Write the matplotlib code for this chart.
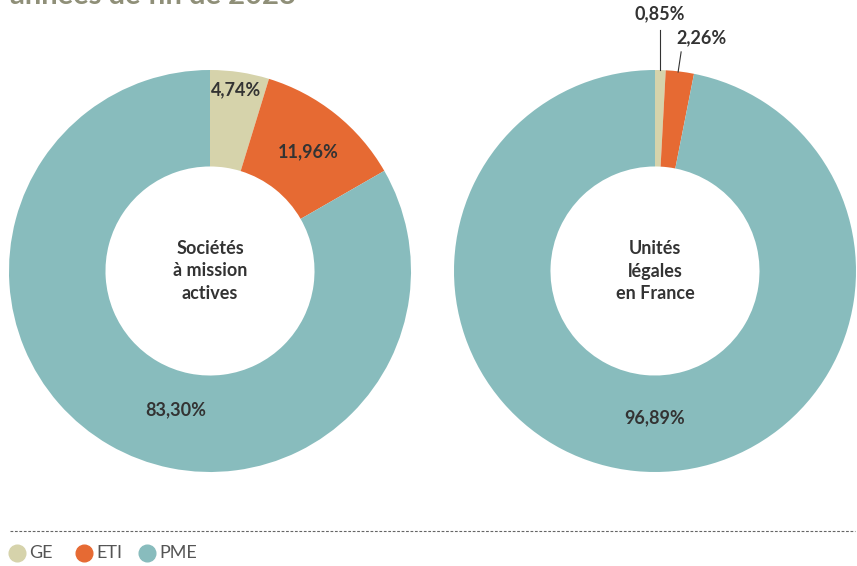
import matplotlib.pyplot as plt
from matplotlib.lines import Line2D

plt.rcParams['font.family'] = ['Lato', 'DejaVu Sans']

categories = ["GE", "ETI", "PME"]
colors = ["#d6d3ab", "#e66a33", "#88bcbd"]

left_values = [4.74, 11.96, 83.30]
right_values = [0.85, 2.26, 96.89]
left_labels = ["4,74%", "11,96%", "83,30%"]
right_labels = ["0,85%", "2,26%", "96,89%"]
left_title = "Sociétés\nà mission\nactives"
right_title = "Unités\nlégales\nen France"

W, H = 857, 566
fig = plt.figure(figsize=(W / 100, H / 100), dpi=100)
DARK = "#333333"
FS = 13


def donut(cx, cy, r, values, center_text):
    ax = fig.add_axes([(cx - r) / W, (H - cy - r) / H, 2 * r / W, 2 * r / H])
    ax.pie(values, colors=colors, startangle=90, counterclock=False,
           radius=1, wedgeprops=dict(width=0.48, linewidth=0))
    ax.set_xlim(-1, 1)
    ax.set_ylim(-1, 1)
    ax.set_aspect("equal")
    ax.axis("off")
    ax.text(0, 0, center_text, ha="center", va="center", fontsize=FS,
            fontweight="bold", color=DARK, linespacing=1.4)
    return ax


# left donut
ax1 = donut(210, 271, 201, left_values, left_title)
ax1.text(0.13, 0.90, left_labels[0], ha="center", va="center", fontsize=FS,
         fontweight="bold", color=DARK)
ax1.text(0.49, 0.595, left_labels[1], ha="center", va="center", fontsize=FS,
         fontweight="bold", color=DARK)
ax1.text(-0.17, -0.69, left_labels[2], ha="center", va="center", fontsize=FS,
         fontweight="bold", color=DARK)

# right donut
ax2 = donut(655, 271, 201, right_values, right_title)
ax2.text(0.025, 1.28, right_labels[0], ha="center", va="center", fontsize=FS,
         fontweight="bold", color=DARK, clip_on=False)
ax2.plot([0.025, 0.025], [1.20, 1.0], color=DARK, lw=0.8, clip_on=False)
ax2.text(0.23, 1.16, right_labels[1], ha="center", va="center", fontsize=FS,
         fontweight="bold", color=DARK, clip_on=False)
ax2.plot([0.13, 0.115], [1.09, 0.99], color=DARK, lw=0.8, clip_on=False)
ax2.text(0, -0.73, right_labels[2], ha="center", va="center", fontsize=FS,
         fontweight="bold", color=DARK)

# title, cut off by the top edge as in the source
fig.text(10 / W, 1 - 4 / H, "années de fin de 2023", ha="left", va="baseline",
         fontsize=21, fontweight="bold", color="#8f8f78")

# dashed separator
fig.add_artist(Line2D([10 / W, 855 / W], [1 - 531 / H, 1 - 531 / H],
                      color="#666666", lw=0.8, linestyle=(0, (2.5, 1.5))))

# legend
leg_x = [17, 84, 147]
for x, lab, col in zip(leg_x, categories, colors):
    fig.add_artist(Line2D([x / W], [1 - 553 / H], marker="o", markersize=12,
                          color=col, linestyle="none"))
    fig.text((x + 12) / W, 1 - 553 / H, lab, ha="left", va="center",
             fontsize=13, color="#555555")

fig.savefig("out.png", dpi=100)
